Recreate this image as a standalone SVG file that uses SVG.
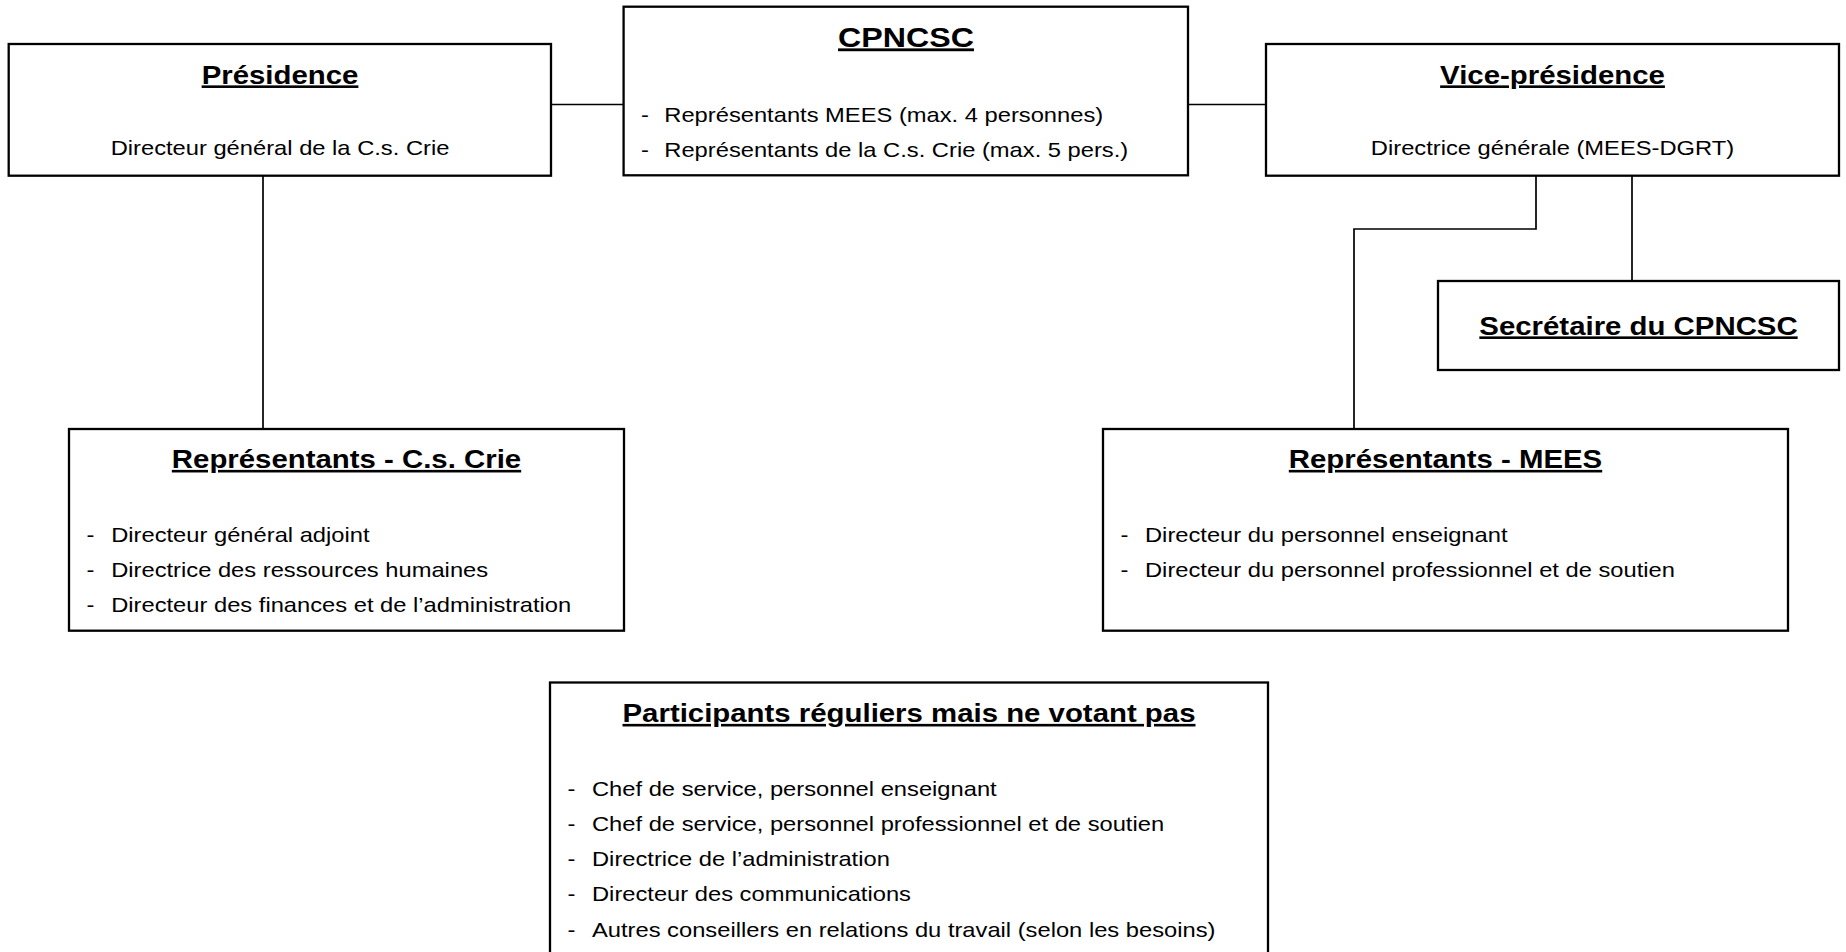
<svg xmlns="http://www.w3.org/2000/svg" width="1846" height="952" viewBox="0 0 1846 952">
<style>
.box{fill:#fff;stroke:#000;stroke-width:2.3}
.conn{fill:none;stroke:#000;stroke-width:1.7}
text{font-family:"Liberation Sans",Arial,Helvetica,sans-serif;fill:#000}
.t{font-size:26px;font-weight:bold;text-anchor:middle;text-decoration:underline}
.tb{font-size:28.5px;font-weight:bold;text-anchor:middle;text-decoration:underline}
.b{font-size:21px}
.m{text-anchor:middle}
</style>
<rect width="1846" height="952" fill="#fff"/>
<g id="connectors">
<path class="conn" d="M551 104.5H624"/>
<path class="conn" d="M1188 104.5H1266"/>
<path class="conn" d="M263 175.7V429"/>
<path class="conn" d="M1536 175.7V229H1354V429"/>
<path class="conn" d="M1632 175.7V281"/>
</g>
<g id="presidence">
<rect class="box" x="8.7" y="44" width="542.3" height="131.7"/>
<text class="t" transform="translate(280 83.5) scale(1.13 1)">Présidence</text>
<text class="b m" transform="translate(280 155) scale(1.13 1)">Directeur général de la C.s. Crie</text>
</g>
<g id="cpncsc">
<rect class="box" x="623.6" y="6.7" width="564.4" height="168.6"/>
<text class="tb" transform="translate(906 46.5) scale(1.13 1)">CPNCSC</text>
<text class="b" transform="translate(641 121.7) scale(1.13 1)">-</text>
<text class="b" transform="translate(664.3 121.7) scale(1.13 1)">Représentants MEES (max. 4 personnes)</text>
<text class="b" transform="translate(641 156.7) scale(1.13 1)">-</text>
<text class="b" transform="translate(664.3 156.7) scale(1.13 1)">Représentants de la C.s. Crie (max. 5 pers.)</text>
</g>
<g id="vice-presidence">
<rect class="box" x="1266" y="44" width="573" height="131.7"/>
<text class="t" transform="translate(1552.5 83.5) scale(1.13 1)">Vice-présidence</text>
<text class="b m" transform="translate(1552.5 155) scale(1.13 1)">Directrice générale (MEES-DGRT)</text>
</g>
<g id="secretaire">
<rect class="box" x="1438" y="281" width="401" height="89"/>
<text class="t" transform="translate(1638.5 334.5) scale(1.13 1)">Secrétaire du CPNCSC</text>
</g>
<g id="representants-cs-crie">
<rect class="box" x="69" y="429" width="555" height="201.7"/>
<text class="t" transform="translate(346.5 468) scale(1.13 1)">Représentants - C.s. Crie</text>
<text class="b" transform="translate(86.5 541.7) scale(1.13 1)">-</text>
<text class="b" transform="translate(111.2 541.7) scale(1.13 1)">Directeur général adjoint</text>
<text class="b" transform="translate(86.5 576.7) scale(1.13 1)">-</text>
<text class="b" transform="translate(111.2 576.7) scale(1.13 1)">Directrice des ressources humaines</text>
<text class="b" transform="translate(86.5 611.7) scale(1.13 1)">-</text>
<text class="b" transform="translate(111.2 611.7) scale(1.13 1)">Directeur des finances et de l’administration</text>
</g>
<g id="representants-mees">
<rect class="box" x="1103" y="429" width="685" height="201.7"/>
<text class="t" transform="translate(1445.5 468) scale(1.13 1)">Représentants - MEES</text>
<text class="b" transform="translate(1120.5 541.7) scale(1.13 1)">-</text>
<text class="b" transform="translate(1145 541.7) scale(1.13 1)">Directeur du personnel enseignant</text>
<text class="b" transform="translate(1120.5 576.7) scale(1.13 1)">-</text>
<text class="b" transform="translate(1145 576.7) scale(1.13 1)">Directeur du personnel professionnel et de soutien</text>
</g>
<g id="participants">
<rect class="box" x="550" y="682.5" width="718" height="275"/>
<text class="t" transform="translate(909 722) scale(1.13 1)">Participants réguliers mais ne votant pas</text>
<text class="b" transform="translate(567.5 795.5) scale(1.13 1)">-</text>
<text class="b" transform="translate(592 795.5) scale(1.13 1)">Chef de service, personnel enseignant</text>
<text class="b" transform="translate(567.5 830.8) scale(1.13 1)">-</text>
<text class="b" transform="translate(592 830.8) scale(1.13 1)">Chef de service, personnel professionnel et de soutien</text>
<text class="b" transform="translate(567.5 866.1) scale(1.13 1)">-</text>
<text class="b" transform="translate(592 866.1) scale(1.13 1)">Directrice de l’administration</text>
<text class="b" transform="translate(567.5 901.4) scale(1.13 1)">-</text>
<text class="b" transform="translate(592 901.4) scale(1.13 1)">Directeur des communications</text>
<text class="b" transform="translate(567.5 936.7) scale(1.13 1)">-</text>
<text class="b" transform="translate(592 936.7) scale(1.13 1)">Autres conseillers en relations du travail (selon les besoins)</text>
</g>
</svg>
